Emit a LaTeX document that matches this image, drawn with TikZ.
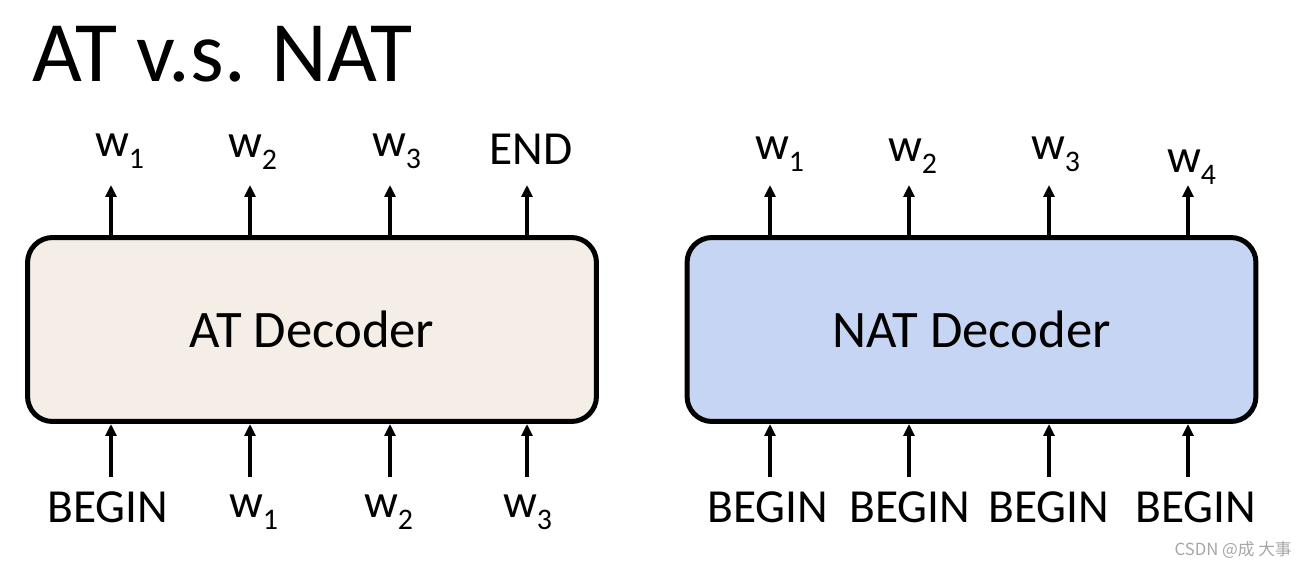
\documentclass[tikz,border=0pt]{standalone}
\usepackage{fontspec}
\setmainfont{Carlito}
\newfontfamily\cjk{Noto Sans CJK SC}
\usetikzlibrary{arrows.meta}

\definecolor{atfill}{RGB}{244,238,231}
\definecolor{natfill}{RGB}{199,213,244}

\tikzset{
	decoder/.style = {draw, line width=2.85pt, rounded corners=0.5cm, minimum width=11.38cm, minimum height=3.68cm, font=\fontsize{30}{36}\selectfont},
	token/.style = {anchor=base, inner sep=0pt, font=\fontsize{27}{32}\selectfont},
	arr/.style = {-{Triangle[length=0.24cm,width=0.22cm]}, line width=1.9pt}
}
\newcommand{\wsub}[1]{w\kern-0.5pt\raisebox{-6.8pt}{\fontsize{17}{20}\selectfont #1}}

\begin{document}
\begin{tikzpicture}[x=0.02cm, y=-0.02cm]
		\useasboundingbox (0,0) rectangle (1305,570);
		\node[anchor=base west, inner sep=0pt, font=\fontsize{49}{58}\selectfont] (title) at (32,82) {AT v.s. NAT};
		\node[decoder, fill=atfill] (at) at (312,329.5) {AT Decoder};
		\node[decoder, fill=natfill] (nat) at (971.5,329.5) {NAT Decoder};
		% AT decoder: outputs and inputs
		\node[token] (atout1) at (120,157) {\wsub{1}};
		\node[token] (atout2) at (253,158) {\wsub{2}};
		\node[token] (atout3) at (397,157) {\wsub{3}};
		\node[token] (atout4) at (531,165) {END};
		\node[token] (atin1) at (108,522) {BEGIN};
		\node[token] (atin2) at (254,518) {\wsub{1}};
		\node[token] (atin3) at (389,518) {\wsub{2}};
		\node[token] (atin4) at (528,518) {\wsub{3}};
		% NAT decoder: outputs and inputs
		\node[token] (natout1) at (780,160) {\wsub{1}};
		\node[token] (natout2) at (913,162) {\wsub{2}};
		\node[token] (natout3) at (1056,160) {\wsub{3}};
		\node[token] (natout4) at (1192,173) {\wsub{4}};
		\node[token] (natin1) at (768,522) {BEGIN};
		\node[token] (natin2) at (910,522) {BEGIN};
		\node[token] (natin3) at (1049,522) {BEGIN};
		\node[token] (natin4) at (1196,522) {BEGIN};
		\foreach \x/\n in {111/1, 250/2, 390/3, 527/4} {
			\coordinate (attip\n) at (\x,185);
			\coordinate (attail\n) at (\x,477);
			\draw[arr] (at.north -| attip\n) -- (attip\n);
			\draw[arr] (attail\n) -- (attail\n |- at.south);
		}
		\foreach \x/\n in {770/1, 909/2, 1049/3, 1188/4} {
			\coordinate (nattip\n) at (\x,185);
			\coordinate (nattail\n) at (\x,477);
			\draw[arr] (nat.north -| nattip\n) -- (nattip\n);
			\draw[arr] (nattail\n) -- (nattail\n |- nat.south);
		}
		\node[anchor=base east, inner sep=0pt, text=black!35, font=\cjk\fontsize{9.5}{11}\selectfont] (mark) at (1292,556) {CSDN @成 大事};
	\end{tikzpicture}
\end{document}
